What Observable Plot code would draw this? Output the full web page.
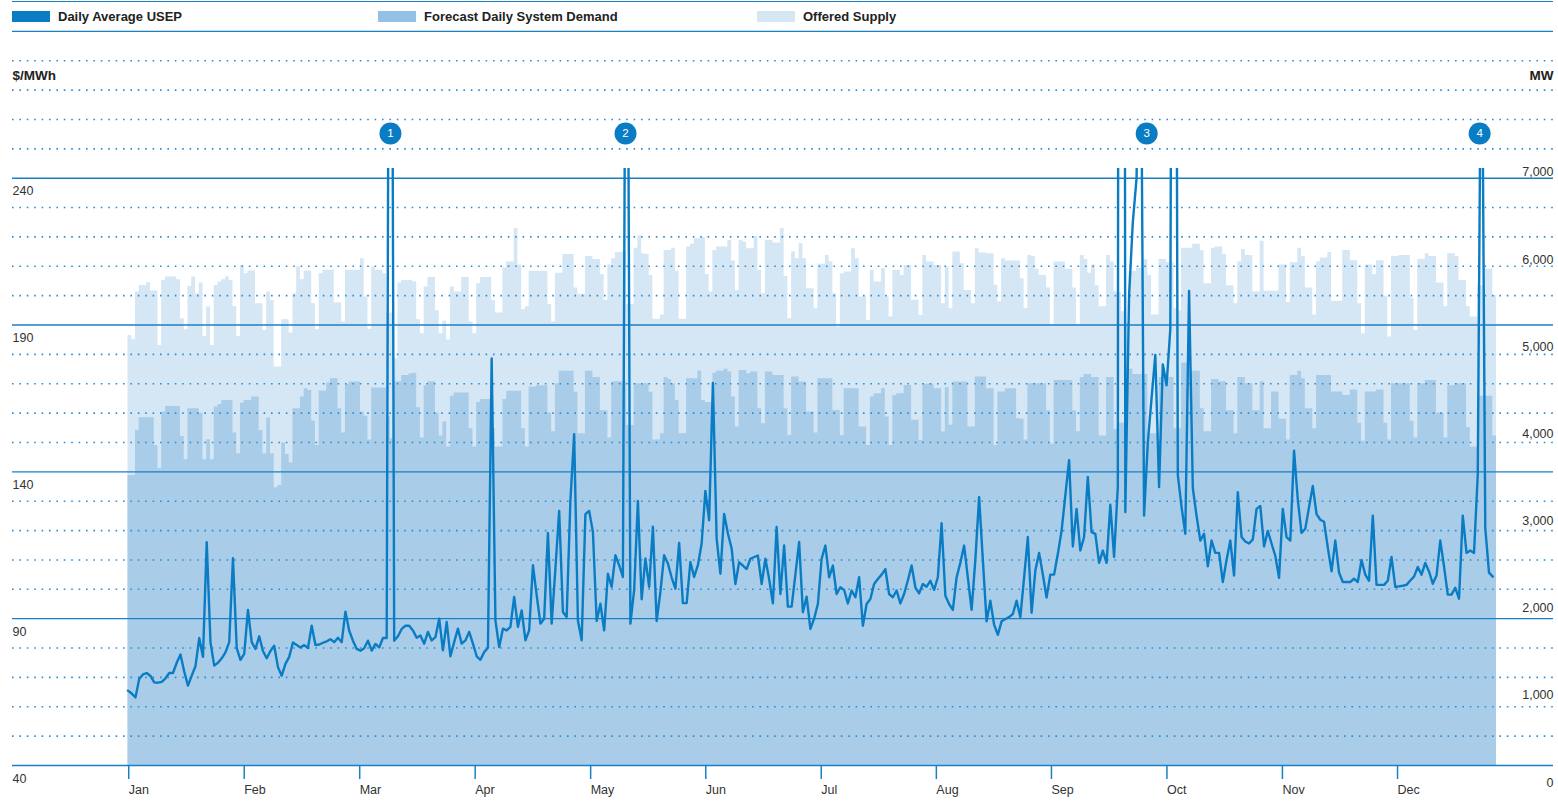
<!DOCTYPE html>
<html><head><meta charset="utf-8">
<script src="https://cdn.jsdelivr.net/npm/d3@7"></script>
<script src="https://cdn.jsdelivr.net/npm/@observablehq/plot@0.6"></script>
<style>
body{margin:0;background:#fff;font-family:"Liberation Sans",Arial,Helvetica,sans-serif;}
#legend{position:relative;width:1558px;height:30px;}
#legend .topline{position:absolute;left:12px;right:5px;top:1px;border-top:1.5px solid #1b7fc6;}
#legend .item{position:absolute;top:10px;height:12px;display:flex;align-items:center;font-weight:bold;font-size:13px;color:#222;white-space:nowrap;}
#legend .sw{width:38px;height:11px;margin-right:8px;flex:none;}
#chart svg{display:block;overflow:visible;}
</style></head><body>
<div id="legend"><div class="topline"></div></div>
<div id="chart"></div>
<script>
// ---------- data ----------
const months = ["Jan","Feb","Mar","Apr","May","Jun","Jul","Aug","Sep","Oct","Nov","Dec"];
const monthTickDays = [0.2,31,61.8,92.6,123.4,154.1,184.9,215.6,246.3,277.1,307.9,338.6];
const leftTicks = [40,90,140,190,240];
const rightTicks = [0,1000,2000,3000,4000,5000,6000,7000];
const seriesNames = ["Daily Average USEP","Forecast Daily System Demand","Offered Supply"];
const annotationLabels = ["1","2","3","4"];
const annotationDays = [70,132.7,271.7,360.5];

// Daily Average USEP ($/MWh), one value per day
const usep = [65.5,64.5,63.2,69.5,71,71.5,70.5,68.3,68.2,68.5,
69.7,71.5,71.5,75,77.8,72,67.2,70.6,73.8,83.4,
77,116,82,74,75,76.5,78.5,82,110.6,80,
76,78,93,82,79.7,84,79,76.5,79,80.8,
73.5,70.6,74.6,77,81.9,81,80.2,81,80,87.6,
81,81.2,81.8,82.3,83,82,83.5,82,92.4,85.9,
82.5,79.7,79.1,79.9,82.5,79.1,81.4,80.2,83.4,83.4,
500,82.5,84,86.5,87.6,87.6,86,83.5,84.3,81.5,
85.5,82.6,83.7,90,79.2,88.9,77.2,82,86.6,81.5,
82.6,85.5,81.5,77.2,76,78.6,80.1,178.6,89.4,80.3,
86.6,86,87.2,97.4,87.2,92.8,82.6,86,108.2,98,
88.3,90,119.2,88.3,107,126.7,92.3,90.6,130.3,152.8,
89.4,82.6,125.6,126.7,119.5,89.2,95.1,86,105.3,100.8,
111.6,108.2,104.2,400,88.3,99.7,130.1,96.6,110.5,100.8,
121.3,89.2,99.1,111.6,108.8,104,100.2,115.8,95.3,95.3,
109.3,104.2,108.2,115.6,133.5,123.5,170.3,117.3,105.3,125.7,
119,113.9,101.8,109.2,108.1,106.9,110.4,111,111.5,101.8,
110.4,103.5,95.2,121.2,98.4,114.9,94.1,94.1,105,116.1,
92.2,97.5,86.5,90,95,110.4,114.9,104.1,108.1,98.4,
100.7,99.8,95.2,99.6,97.3,104.1,87.6,95,96.7,101.8,
103.5,105,106.9,98.4,97.3,99.6,95.2,98.4,103,108.1,
100.7,98.6,101.8,100.9,102.9,99.8,104.1,122.5,97.8,95,
93,104.1,109,114.9,104,93,110,131.4,110,89.1,
96.1,88,84.5,89.1,89.9,90.5,91.6,96.1,90.5,104,
117.8,92,106.4,112.4,105,97.2,105,105,112,119.9,
132,144,114.6,127.4,113.2,117.8,138.3,119.5,118.9,109,
113.2,109,128.8,111,135,1500,126.3,200,225,240,
330,125.1,150,165,179.8,134.8,176.6,169.5,188.6,600,
139,128,118.9,201.6,134.5,125,116.6,118.9,107.8,116.6,
112.4,112.4,102.5,110,116.6,104.7,133.1,117.8,116.3,115.6,
117,127.4,128.4,114.6,119.9,115.6,111.4,103.9,127.4,117.8,
116.6,147.2,130.5,119.2,120.6,128,135.2,125.6,123.7,123,
114.2,106.1,116.6,105.7,102.5,102.5,102.5,103.6,102.5,110,
105,102.9,125.1,101.5,101.5,101.5,102.9,111,100.8,101,
101.2,101.5,103,104.3,107.6,105,109,106.1,101.9,104.7,
116.6,107.8,98.2,98.2,100.5,96.8,125.1,112.4,113.2,112.4,
139,320,120.9,105.7,104.3];

// Forecast Daily System Demand (MW)
const demand = [3523,3523,4040,4185,4185,4185,4185,3867,3600,4250,
4315,4315,4315,4315,3971,3703,4288,4288,4288,4238,
3703,3932,3703,4307,4338,4384,4384,4384,4009,3772,
4353,4384,4384,4422,4422,4040,3772,4181,3772,3382,
3408,3894,3764,3665,4288,4288,4422,4518,4499,4147,
3867,4491,4491,4583,4632,4632,4288,4009,4567,4594,
4594,4594,4250,4202,3929,4527,4527,4527,4527,4193,
3944,4599,4599,4671,4671,4690,4697,4300,3953,4551,
4599,4599,4240,3977,4135,3848,4432,4470,4470,4470,
4470,4059,3848,4360,4393,4393,4393,4059,3848,3848,
4393,4489,4489,4489,4489,4059,3848,4537,4537,4551,
4551,4551,4240,4025,4575,4718,4718,4718,4718,4479,
4001,4001,4718,4718,4647,4647,4264,4264,3953,4599,
4599,4599,4599,4097,4097,4575,4575,4575,4575,4479,
3930,3930,4001,4647,4623,4575,4384,4001,4001,4632,
4632,4632,4718,4384,4360,4360,4695,4718,4718,4742,
4709,4422,4078,4728,4728,4690,4709,4709,4288,4116,
4709,4709,4671,4671,4671,4288,3982,4652,4652,4594,
4594,4250,4250,4009,4633,4633,4633,4633,4269,4269,
3982,4518,4518,4518,4518,4078,4078,3868,4422,4461,
4461,4518,4193,3868,4441,4461,4461,4556,4556,4155,
4155,3925,4568,4568,4568,4518,4518,4021,4529,4100,
4594,4594,4594,4594,4078,4078,4652,4652,4652,4518,
4518,3868,4480,4480,4518,4518,4518,4174,4169,3929,
4575,4575,4575,4575,4575,4264,3882,4613,4613,4613,
4613,4613,4264,4025,4647,4680,4680,4647,4647,3977,
3977,4647,4647,4049,4121,4121,4599,4742,4680,4680,
4680,4680,4001,4001,4001,4647,4647,4647,4647,4059,
4059,4814,4814,4718,4718,4718,4288,4025,4025,4623,
4623,4599,4599,4264,4264,4001,4647,4647,4575,4575,
4264,4264,4599,4059,4059,4480,4480,4169,4169,3929,
4671,4671,4718,4632,4288,4288,4059,4671,4671,4671,
4671,4480,4480,4480,4441,4441,4503,4503,4121,3915,
4480,4480,4480,4503,4503,4121,3929,4575,4575,4575,
4575,4575,4145,3953,4575,4575,4613,4613,4613,4240,
4240,3953,4551,4551,4575,4575,4575,4073,3848,3848,
4432,4432,4432,4432,3977];

// Offered Supply (MW)
const supply = [5130,5080,5627,5703,5703,5734,5638,5638,5015,5761,
5799,5799,5799,5768,5321,5195,5692,5799,5608,5730,
5118,5455,5015,5703,5742,5768,5799,5761,5462,5118,
5933,5837,5868,5868,5493,5493,5187,5627,5531,4766,
4766,5309,5309,5156,5608,5914,5768,5868,5868,5493,
5195,5837,5876,5876,5876,5501,5501,5283,5876,5876,
5876,5876,6009,5570,5200,5914,5876,5876,5837,5386,
5386,4862,5730,5761,5761,5761,5742,5310,5149,5685,
5794,5794,5412,5149,5292,5077,5685,5627,5627,5794,
5794,5283,5149,5723,5794,5794,5794,5531,5388,5388,
5904,5971,5971,6354,5938,5426,5460,5866,5866,5866,
5866,5866,5484,5283,5842,5842,6057,6057,6057,5675,
5603,5603,6034,6034,6000,6000,5828,5531,5938,6010,
6081,6081,6100,5484,5484,6129,6273,6067,6057,5818,
5316,5316,5364,6105,6105,6129,5866,5316,5316,6144,
6177,6239,6239,6249,5828,5627,6105,6144,6144,6144,
6220,5983,5646,6220,6201,6124,6124,6266,5876,5608,
6220,6220,6189,6189,6354,5807,5321,6086,6010,6182,
6010,5665,5665,5436,5945,5945,6048,5971,5608,5226,
5838,5857,5857,6124,6010,5570,5570,5302,5876,5742,
5742,5895,5570,5340,5876,5876,5818,5933,5933,5532,
5532,5359,6048,5971,5971,5933,5933,5493,5914,5436,
6086,6086,5952,5646,5646,5493,6124,6075,6075,6067,
6067,5704,5512,6010,5983,5983,5983,5983,5780,5436,
6048,6034,5890,5818,5818,5675,5245,5971,5971,5971,
5890,5890,5675,5245,6048,6000,5842,5938,5699,5460,
5460,6048,5971,5627,5627,5400,5269,5866,5866,5900,
5900,6000,5818,5364,5364,6000,6000,5962,5962,5436,
5412,6129,6129,6129,6177,6177,6105,5723,5723,6129,
6144,6144,6057,5699,5699,5493,5971,6115,6048,6048,
5627,5627,6210,5637,5637,5637,5637,5938,5938,5508,
5962,5962,6129,6034,5675,5675,5364,5971,6019,6019,
6081,5522,5522,5522,6105,6105,5986,5986,5493,5149,
5938,5938,5828,5986,5986,5579,5111,6034,6034,6048,
6048,6048,5555,5187,6000,6000,6067,6034,6034,5732,
5732,5460,6067,6067,6034,5761,5761,5460,5340,5340,
5699,5699,5890,5890,5589];

// ---------- styling ----------
const colors = {usep:"#0a7cc4", demand:"#a9cde8", supply:"#d5e6f4", demandKey:"#93c1e4", grid:"#1b7fc6", dots:"#2b8ed3", text:"#333"};
// relation between the two axes: 0 MW and 7,000 MW positions on the $/MWh scale
const mwAxis = {usdAt0: 34.21, usdAt7000: 241.97};
const mwToUsd = mw => mwAxis.usdAt0 + mw * (mwAxis.usdAt7000 - mwAxis.usdAt0) / 7000;
const solidLevels = [40,90,140,190,240,290];
const dottedLevels = d3.range(40, 291, 10).filter(v => !solidLevels.includes(v));
const baseUsd = leftTicks[0];

// ---------- tables ----------
const lineRows = usep.map((v, i) => ({day: i, usep: v}));
const areaRows = demand.map((v, i) => ({day: i, demand: mwToUsd(v), supply: mwToUsd(supply[i])}));
areaRows.push({day: demand.length, demand: mwToUsd(demand[demand.length-1]), supply: mwToUsd(supply[supply.length-1])});
const annotations = annotationDays.map((d, i) => ({day: d, label: annotationLabels[i]}));

// ---------- legend ----------
const legend = document.getElementById("legend");
const legendX = [12, 378, 757];
const legendColors = [colors.usep, colors.demandKey, colors.supply];
seriesNames.forEach((name, i) => {
  const it = document.createElement("div");
  it.className = "item";
  it.style.left = legendX[i] + "px";
  it.innerHTML = `<span class="sw" style="background:${legendColors[i]}"></span><span>${name}</span>`;
  legend.appendChild(it);
});

// ---------- chart ----------
const chart = Plot.plot({
  width: 1558, height: 772,
  marginLeft: 12, marginRight: 5, marginTop: 138, marginBottom: 37,
  x: {type: "linear", domain: [-30.8, 380.2], axis: null, label: null},
  y: {type: "linear", domain: [40, 243.3], axis: null, label: null},
  style: {fontFamily: '"Liberation Sans", Arial, Helvetica, sans-serif', fontSize: "12px", color: colors.text, background: "white", overflow: "visible"},
  marks: [
    Plot.areaY(areaRows, {x: "day", y1: baseUsd, y2: "supply", curve: "step-after", fill: colors.supply}),
    Plot.areaY(areaRows, {x: "day", y1: baseUsd, y2: "demand", curve: "step-after", fill: colors.demand}),
    Plot.ruleY(dottedLevels, {stroke: colors.dots, strokeWidth: 1.6, strokeDasharray: "1.6,5.8"}),
    Plot.ruleY(solidLevels, {stroke: colors.grid, strokeWidth: 1.4}),
    Plot.line(lineRows, {x: "day", y: "usep", stroke: colors.usep, strokeWidth: 2.4, strokeLinejoin: "round", clip: true}),
    Plot.axisX({ticks: monthTickDays, tickFormat: d => months[monthTickDays.indexOf(d)], tickSize: 14, tickPadding: 6, label: null,
      textAnchor: "start", stroke: colors.grid, strokeWidth: 1.5, fill: colors.text, fontSize: 12.5}),
    Plot.text(leftTicks, {y: d => d, text: d => String(d), frameAnchor: "left", textAnchor: "start", dy: 13, fill: colors.text, fontSize: 12.5}),
    Plot.text(rightTicks, {y: d => mwToUsd(d), text: d => d3.format(",")(d), frameAnchor: "right", textAnchor: "end", fill: colors.text, fontSize: 12.5}),
    Plot.text(["$/MWh"], {text: d => d, frameAnchor: "top-left", lineAnchor: "middle", dy: -93, textAnchor: "start", fontWeight: "bold", fill: "#222", fontSize: 13.5}),
    Plot.text(["MW"], {text: d => d, frameAnchor: "top-right", lineAnchor: "middle", dy: -93, textAnchor: "end", fontWeight: "bold", fill: "#222", fontSize: 13.5}),
    Plot.dot(annotations, {x: "day", frameAnchor: "top", dy: -35, r: 11, fill: colors.usep}),
    Plot.text(annotations, {x: "day", text: "label", frameAnchor: "top", lineAnchor: "middle", dy: -35, fill: "white", fontSize: 11.5})
  ]
});
document.getElementById("chart").appendChild(chart);
</script>
</body></html>
